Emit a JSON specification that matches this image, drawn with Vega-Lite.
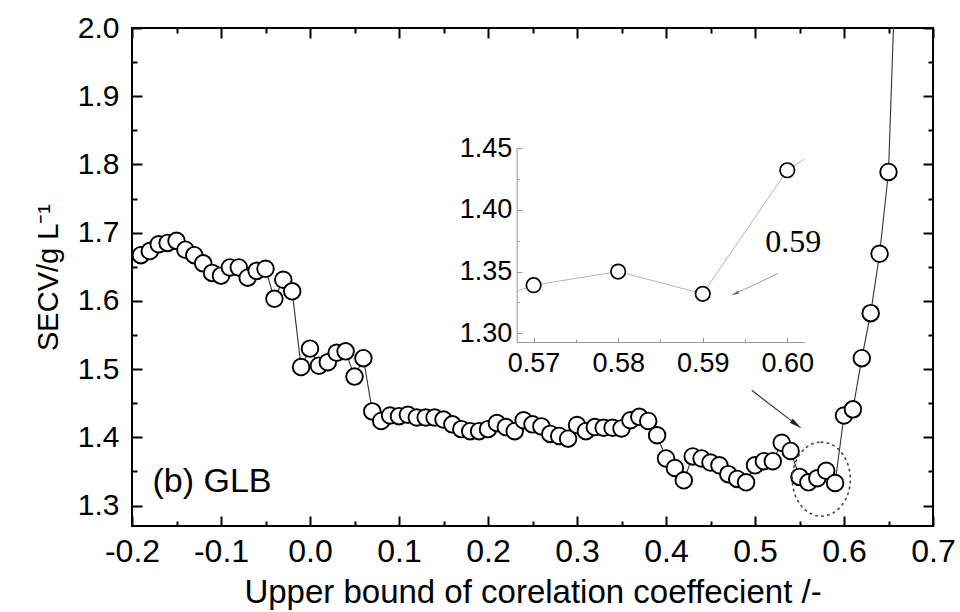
{
  "$schema": "https://vega.github.io/schema/vega-lite/v6.json",
  "width": 801,
  "height": 498,
  "autosize": {"type": "none"},
  "padding": {"left": 132, "top": 28, "right": 27, "bottom": 86},
  "background": "white",
  "config": {
    "view": {"stroke": "black", "strokeWidth": 2},
    "axis": {"labelFont": "Liberation Sans", "titleFont": "Liberation Sans", "titleFontWeight": "normal", "labelColor": "black", "titleColor": "black", "grid": false}
  },
  "datasets": {
    "main": [
      {"x": -0.19, "y": 1.667}, {"x": -0.18, "y": 1.673}, {"x": -0.17, "y": 1.683}, {"x": -0.16, "y": 1.685},
      {"x": -0.15, "y": 1.688}, {"x": -0.14, "y": 1.675}, {"x": -0.13, "y": 1.667}, {"x": -0.12, "y": 1.655},
      {"x": -0.11, "y": 1.641}, {"x": -0.10, "y": 1.637}, {"x": -0.09, "y": 1.649}, {"x": -0.08, "y": 1.649},
      {"x": -0.07, "y": 1.634}, {"x": -0.06, "y": 1.644}, {"x": -0.05, "y": 1.647}, {"x": -0.04, "y": 1.603},
      {"x": -0.03, "y": 1.631}, {"x": -0.02, "y": 1.614}, {"x": -0.01, "y": 1.503}, {"x": 0.00, "y": 1.530},
      {"x": 0.01, "y": 1.505}, {"x": 0.02, "y": 1.510}, {"x": 0.03, "y": 1.524}, {"x": 0.04, "y": 1.526},
      {"x": 0.05, "y": 1.489}, {"x": 0.06, "y": 1.516}, {"x": 0.07, "y": 1.438}, {"x": 0.08, "y": 1.424},
      {"x": 0.09, "y": 1.432}, {"x": 0.10, "y": 1.431}, {"x": 0.11, "y": 1.433}, {"x": 0.12, "y": 1.429},
      {"x": 0.13, "y": 1.429}, {"x": 0.14, "y": 1.429}, {"x": 0.15, "y": 1.426}, {"x": 0.16, "y": 1.419},
      {"x": 0.17, "y": 1.412}, {"x": 0.18, "y": 1.409}, {"x": 0.19, "y": 1.409}, {"x": 0.20, "y": 1.412},
      {"x": 0.21, "y": 1.421}, {"x": 0.22, "y": 1.415}, {"x": 0.23, "y": 1.409}, {"x": 0.24, "y": 1.425},
      {"x": 0.25, "y": 1.419}, {"x": 0.26, "y": 1.416}, {"x": 0.27, "y": 1.405}, {"x": 0.28, "y": 1.402},
      {"x": 0.29, "y": 1.398}, {"x": 0.30, "y": 1.418}, {"x": 0.31, "y": 1.409}, {"x": 0.32, "y": 1.415},
      {"x": 0.33, "y": 1.414}, {"x": 0.34, "y": 1.414}, {"x": 0.35, "y": 1.413}, {"x": 0.36, "y": 1.425},
      {"x": 0.37, "y": 1.430}, {"x": 0.38, "y": 1.424}, {"x": 0.39, "y": 1.403}, {"x": 0.40, "y": 1.369},
      {"x": 0.41, "y": 1.355}, {"x": 0.42, "y": 1.337}, {"x": 0.43, "y": 1.372}, {"x": 0.44, "y": 1.369},
      {"x": 0.45, "y": 1.363}, {"x": 0.46, "y": 1.359}, {"x": 0.47, "y": 1.346}, {"x": 0.48, "y": 1.339},
      {"x": 0.49, "y": 1.334}, {"x": 0.50, "y": 1.359}, {"x": 0.51, "y": 1.365}, {"x": 0.52, "y": 1.365},
      {"x": 0.53, "y": 1.392}, {"x": 0.54, "y": 1.380}, {"x": 0.55, "y": 1.342}, {"x": 0.56, "y": 1.334},
      {"x": 0.57, "y": 1.340}, {"x": 0.58, "y": 1.351}, {"x": 0.59, "y": 1.333}, {"x": 0.60, "y": 1.432},
      {"x": 0.61, "y": 1.441}, {"x": 0.62, "y": 1.516}, {"x": 0.63, "y": 1.582}, {"x": 0.64, "y": 1.669},
      {"x": 0.65, "y": 1.789}, {"x": 0.66, "y": 2.17}
    ],
    "inset": [
      {"x": 0.56, "y": 1.334}, {"x": 0.57, "y": 1.339}, {"x": 0.58, "y": 1.350},
      {"x": 0.59, "y": 1.332}, {"x": 0.60, "y": 1.432}, {"x": 0.61, "y": 1.441}
    ]
  },
  "resolve": {"scale": {"x": "independent", "y": "independent"}},
  "layer": [
    {
      "resolve": {"axis": {"x": "independent", "y": "independent"}},
      "layer": [
        {
          "data": {"name": "main"},
          "mark": {"type": "line", "color": "#333333", "strokeWidth": 1.1, "clip": true},
          "encoding": {
            "x": {
              "field": "x", "type": "quantitative",
              "scale": {"domain": [-0.2, 0.7], "nice": false, "zero": false},
              "axis": {
                "orient": "bottom",
                "values": [-0.2, -0.15, -0.1, -0.05, 0, 0.05, 0.1, 0.15, 0.2, 0.25, 0.3, 0.35, 0.4, 0.45, 0.5, 0.55, 0.6, 0.65, 0.7],
                "labelExpr": "abs(datum.value*10 - round(datum.value*10)) < 0.01 ? replace(format(datum.value, '.1f'), '\u2212', '-') : ''",
                "tickSize": {"condition": {"test": "abs(datum.value*10 - round(datum.value*10)) < 0.01", "value": -10}, "value": -5},
                "tickColor": "black", "tickWidth": 2, "domain": false,
                "labelPadding": 20, "labelFontSize": 32, "labelFlush": false, "labelOverlap": false,
                "title": "Upper bound of corelation coeffecient /-", "titleFontSize": 33, "titlePadding": 4
              }
            },
            "y": {
              "field": "y", "type": "quantitative",
              "scale": {"domain": [1.27, 2.0], "nice": false, "zero": false},
              "axis": {
                "orient": "left",
                "values": [1.3, 1.35, 1.4, 1.45, 1.5, 1.55, 1.6, 1.65, 1.7, 1.75, 1.8, 1.85, 1.9, 1.95, 2.0],
                "labelExpr": "abs(datum.value*10 - round(datum.value*10)) < 0.01 ? format(datum.value, '.1f') : ''",
                "tickSize": {"condition": {"test": "abs(datum.value*10 - round(datum.value*10)) < 0.01", "value": -10}, "value": -5},
                "tickColor": "black", "tickWidth": 2, "domain": false,
                "labelPadding": 23, "labelFontSize": 30, "labelFlush": false, "labelOverlap": false,
                "title": "SECV/g L\u207B\u00B9", "titleFontSize": 29, "titlePadding": 14
              }
            }
          }
        },
        {
          "data": {"name": "main"},
          "mark": {"type": "point", "shape": "circle", "filled": true, "fill": "white", "stroke": "black", "strokeWidth": 1.9, "size": 275, "opacity": 1, "fillOpacity": 1, "strokeOpacity": 1, "clip": true},
          "encoding": {
            "x": {
              "field": "x", "type": "quantitative",
              "axis": {
                "orient": "top", "labels": false, "title": null, "domain": false,
                "values": [-0.2, -0.15, -0.1, -0.05, 0, 0.05, 0.1, 0.15, 0.2, 0.25, 0.3, 0.35, 0.4, 0.45, 0.5, 0.55, 0.6, 0.65, 0.7],
                "tickSize": {"condition": {"test": "abs(datum.value*10 - round(datum.value*10)) < 0.01", "value": -10}, "value": -5},
                "tickColor": "black", "tickWidth": 2
              }
            },
            "y": {
              "field": "y", "type": "quantitative",
              "axis": {
                "orient": "right", "labels": false, "title": null, "domain": false,
                "values": [1.3, 1.35, 1.4, 1.45, 1.5, 1.55, 1.6, 1.65, 1.7, 1.75, 1.8, 1.85, 1.9, 1.95, 2.0],
                "tickSize": {"condition": {"test": "abs(datum.value*10 - round(datum.value*10)) < 0.01", "value": -10}, "value": -5},
                "tickColor": "black", "tickWidth": 2
              }
            }
          }
        },
        {
          "data": {"values": [{"label": "(b) GLB"}]},
          "mark": {"type": "text", "font": "Liberation Sans", "fontSize": 34, "align": "left", "baseline": "middle", "color": "black"},
          "encoding": {
            "x": {"datum": -0.177, "type": "quantitative", "axis": null},
            "y": {"datum": 1.335, "type": "quantitative", "axis": null},
            "text": {"field": "label"}
          }
        },
        {
          "data": {"values": [{}]},
          "mark": {"type": "rule", "color": "#333333", "strokeWidth": 1.2},
          "encoding": {
            "x": {"datum": 0.4963, "type": "quantitative", "axis": null},
            "y": {"datum": 1.469, "type": "quantitative", "axis": null},
            "x2": {"datum": 0.5466},
            "y2": {"datum": 1.4186}
          }
        },
        {
          "data": {"values": [{}]},
          "mark": {"type": "point", "shape": "M 1 0 L -1 -0.38 L -1 0.38 Z", "size": 169, "angle": 37.5, "filled": true, "color": "#222222", "opacity": 1},
          "encoding": {
            "x": {"datum": 0.5466, "type": "quantitative", "axis": null},
            "y": {"datum": 1.4186, "type": "quantitative", "axis": null}
          }
        },
        {
          "data": {"values": [{}]},
          "mark": {"type": "point", "shape": "M 0 -1 C 0.433 -1 0.784 -0.5523 0.784 0 C 0.784 0.5523 0.433 1 0 1 C -0.433 1 -0.784 0.5523 -0.784 0 C -0.784 -0.5523 -0.433 -1 0 -1 Z", "size": 5476, "filled": false, "stroke": "#444444", "strokeWidth": 1.6, "strokeDash": [1.5, 4.5], "strokeCap": "round", "opacity": 1},
          "encoding": {
            "x": {"datum": 0.5745, "type": "quantitative", "axis": null},
            "y": {"datum": 1.3387, "type": "quantitative", "axis": null}
          }
        }
      ]
    },
    {
      "layer": [
        {
          "data": {"name": "inset"},
          "mark": {"type": "line", "color": "#b5b5b5", "strokeWidth": 1},
          "encoding": {
            "x": {
              "field": "x", "type": "quantitative",
              "scale": {"domain": [0.568, 0.602], "range": [384.7, 672.2], "clamp": true, "nice": false, "zero": false},
              "axis": {
                "orient": "bottom", "offset": -184, "title": null,
                "values": [0.57, 0.575, 0.58, 0.585, 0.59, 0.595, 0.6],
                "labelExpr": "abs(datum.value*100 - round(datum.value*100)) < 0.01 ? format(datum.value, '.2f') : ''",
                "tickSize": {"condition": {"test": "abs(datum.value*100 - round(datum.value*100)) < 0.01", "value": -5}, "value": -3},
                "tickColor": "#999999", "domainColor": "#999999", "domainWidth": 1, "tickWidth": 1,
                "labelPadding": 13, "labelFontSize": 27, "labelFlush": false, "labelOverlap": false
              }
            },
            "y": {
              "field": "y", "type": "quantitative",
              "scale": {"domain": [1.293, 1.45], "range": [314, 120], "nice": false, "zero": false},
              "axis": {
                "orient": "left", "offset": -384.7, "title": null,
                "values": [1.3, 1.325, 1.35, 1.375, 1.4, 1.425, 1.45],
                "labelExpr": "abs(datum.value*20 - round(datum.value*20)) < 0.01 ? format(datum.value, '.2f') : ''",
                "tickSize": {"condition": {"test": "abs(datum.value*20 - round(datum.value*20)) < 0.01", "value": -5}, "value": -3},
                "tickColor": "#999999", "domainColor": "#999999", "domainWidth": 1, "tickWidth": 1,
                "labelPadding": 10, "labelFontSize": 27, "labelFlush": false, "labelOverlap": false
              }
            }
          }
        },
        {
          "data": {"name": "inset"},
          "transform": [{"filter": "datum.x > 0.565 && datum.x < 0.605"}],
          "mark": {"type": "point", "shape": "circle", "filled": true, "fill": "white", "stroke": "black", "strokeWidth": 1.7, "size": 210, "opacity": 1, "fillOpacity": 1, "strokeOpacity": 1},
          "encoding": {
            "x": {"field": "x", "type": "quantitative"},
            "y": {"field": "y", "type": "quantitative"}
          }
        },
        {
          "data": {"values": [{"label": "0.59"}]},
          "mark": {"type": "text", "font": "Liberation Serif", "fontSize": 32, "align": "center", "baseline": "middle", "color": "black"},
          "encoding": {
            "x": {"datum": 0.6007, "type": "quantitative"},
            "y": {"datum": 1.3738, "type": "quantitative"},
            "text": {"field": "label"}
          }
        },
        {
          "data": {"values": [{}]},
          "mark": {"type": "rule", "color": "#999999", "strokeWidth": 1},
          "encoding": {
            "x": {"datum": 0.5989, "type": "quantitative"},
            "y": {"datum": 1.3484, "type": "quantitative"},
            "x2": {"datum": 0.5938},
            "y2": {"datum": 1.332}
          }
        },
        {
          "data": {"values": [{}]},
          "mark": {"type": "point", "shape": "M 1 0 L -1 -0.4 L -1 0.4 Z", "size": 64, "angle": 154.7, "filled": true, "color": "#666666", "opacity": 1},
          "encoding": {
            "x": {"datum": 0.5938, "type": "quantitative"},
            "y": {"datum": 1.332, "type": "quantitative"}
          }
        }
      ]
    }
  ]
}
